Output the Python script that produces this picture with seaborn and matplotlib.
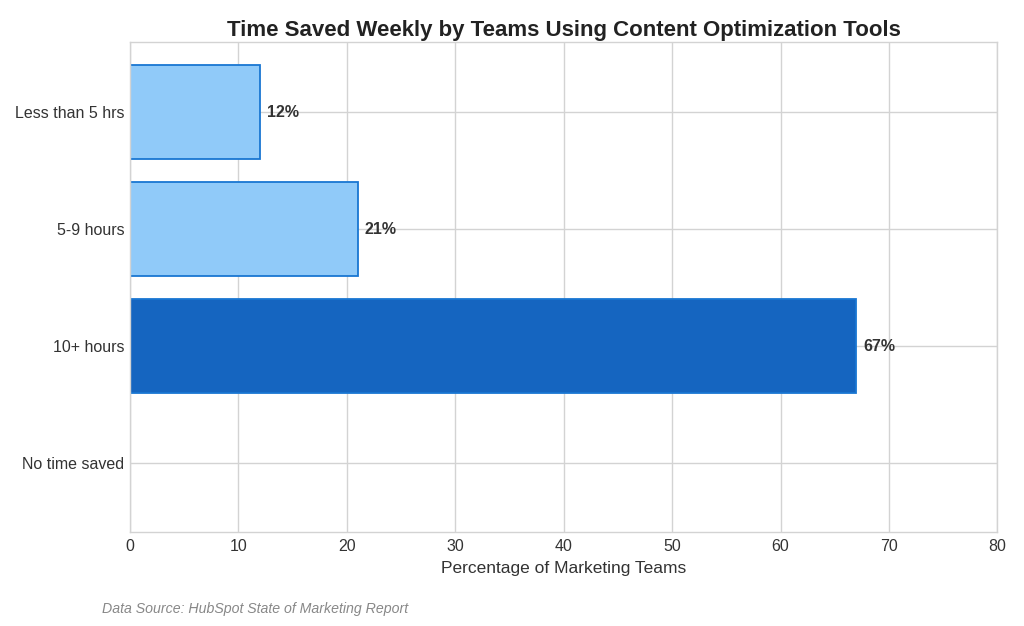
import pandas as pd
import matplotlib
matplotlib.use("Agg")
import matplotlib.pyplot as plt
import seaborn as sns

# valores
categories = ["Less than 5 hrs", "5-9 hours", "10+ hours", "No time saved"]
percentages = [12, 21, 67, 0]
bar_colors = ["#90CAF9", "#90CAF9", "#1565C0", "#90CAF9"]

df = pd.DataFrame({"category": categories, "pct": percentages})

sns.set_theme(style="whitegrid")
plt.rcParams["font.family"] = ["Liberation Sans", "DejaVu Sans"]

fig = plt.figure(figsize=(10.24, 6.26), dpi=100)
ax = fig.add_axes([0.127, 0.150, 0.847, 0.783])

sns.barplot(data=df, y="category", x="pct", hue="category", palette=bar_colors,
            order=categories, hue_order=categories, legend=False, width=0.8,
            saturation=1, edgecolor="#1976D2", linewidth=1.3, ax=ax)

for cont, val in zip(ax.containers, percentages):
    if val > 0:
        ax.bar_label(cont, labels=[f"{val}%"], padding=5, fontsize=11.5,
                     fontweight="bold", color="#333333")

ax.set_xlim(0, 80)
ax.set_ylim(3.59, -0.6)
ax.set_title("Time Saved Weekly by Teams Using Content Optimization Tools",
             fontsize=16, fontweight="bold", color="#222222", pad=4)
ax.set_xlabel("Percentage of Marketing Teams", fontsize=12.5, color="#333333", labelpad=5)
ax.set_ylabel("")
ax.tick_params(axis="x", labelsize=11.5, colors="#333333", length=0, pad=5)
ax.tick_params(axis="y", labelsize=11.5, colors="#333333", length=0, pad=4)
ax.grid(True, axis="both", color="#d3d3d3", linewidth=1)
for sp in ax.spines.values():
    sp.set_color("#d3d3d3")
    sp.set_linewidth(1)

fig.text(0.1, 0.021, "Data Source: HubSpot State of Marketing Report",
         fontsize=10.2, style="italic", color="#888888")

fig.savefig("out.png", dpi=100)
